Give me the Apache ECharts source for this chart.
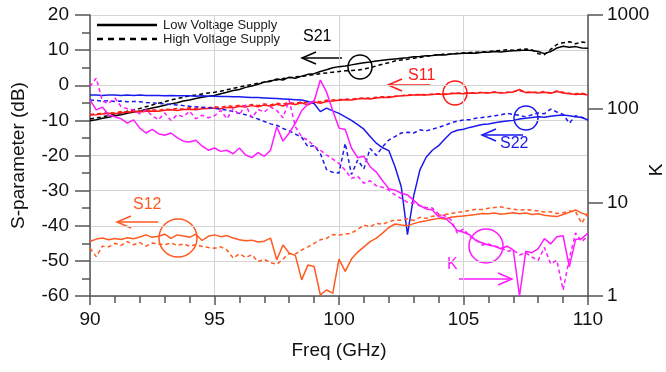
<!DOCTYPE html>
<html>
<head>
<meta charset="utf-8">
<script src="https://cdn.jsdelivr.net/npm/echarts@6/dist/echarts.min.js"></script>
<style>
  html, body { margin: 0; padding: 0; background: #fff; }
  #chart { width: 666px; height: 372px; }
</style>
</head>
<body>
<div id="chart"></div>
<script>
// frequency grid, GHz
var freq = [90, 90.25, 90.5, 90.75, 91, 91.25, 91.5, 91.75, 92, 92.25,
  92.5, 92.75, 93, 93.25, 93.5, 93.75, 94, 94.25, 94.5, 94.75,
  95, 95.25, 95.5, 95.75, 96, 96.25, 96.5, 96.75, 97, 97.25,
  97.5, 97.75, 98, 98.25, 98.5, 98.75, 99, 99.25, 99.5, 99.75,
  100, 100.25, 100.5, 100.75, 101, 101.25, 101.5, 101.75, 102, 102.25,
  102.5, 102.75, 103, 103.25, 103.5, 103.75, 104, 104.25, 104.5, 104.75,
  105, 105.25, 105.5, 105.75, 106, 106.25, 106.5, 106.75, 107, 107.25,
  107.5, 107.75, 108, 108.25, 108.5, 108.75, 109, 109.25, 109.5, 109.75,
  110];

// S-parameters (dB), low / high voltage supply
var s21Low = [-10.1, -9.8, -9.4, -9.1, -8.7, -8.4, -8.0, -7.6, -7.3, -6.9,
  -6.5, -6.1, -5.7, -5.3, -5.0, -4.5, -4.2, -3.8, -3.4, -3.1,
  -2.9, -2.4, -2.0, -1.5, -1.2, -0.6, -0.2, 0.3, 0.9, 1.1,
  1.8, 1.5, 2.3, 2.0, 2.6, 3.1, 3.3, 3.9, 4.4, 5.0,
  5.3, 5.5, 5.8, 6.1, 6.4, 6.6, 6.9, 7.1, 7.3, 7.5,
  7.7, 7.8, 8.1, 8.2, 8.4, 8.5, 8.7, 8.6, 8.9, 9.0,
  9.1, 9.2, 9.1, 9.4, 9.4, 9.6, 9.5, 9.7, 9.8, 9.9,
  10.0, 9.9, 9.6, 9.0, 9.6, 10.6, 11.1, 10.8, 11.0, 10.6,
  10.5];
var s21High = [-9.6, -9.3, -9.0, -8.6, -8.3, -7.9, -7.4, -7.0, -6.6, -6.1,
  -5.6, -5.1, -4.7, -4.2, -3.8, -3.4, -3.0, -2.8, -2.5, -2.2,
  -2.0, -1.7, -1.3, -0.9, -0.5, -0.1, 0.2, 0.6, 0.9, 1.3,
  1.5, 1.9, 2.1, 2.4, 2.5, 2.8, 3.0, 3.3, 3.5, 3.7,
  3.9, 4.1, 4.2, 4.3, 4.6, 5.0, 5.5, 6.0, 6.4, 6.9,
  7.2, 7.4, 7.7, 7.9, 8.2, 8.5, 8.6, 8.9, 8.8, 9.1,
  9.2, 9.3, 9.4, 9.5, 9.6, 9.8, 9.9, 10.1, 10.0, 10.2,
  10.3, 10.1, 9.0, 8.7, 10.2, 11.6, 12.1, 12.4, 11.8, 12.3,
  12.1];
var s11Low = [-8.5, -8.4, -8.2, -8.0, -8.1, -7.8, -7.7, -7.5, -7.6, -7.4,
  -7.3, -7.4, -7.1, -7.0, -7.2, -6.9, -6.8, -7.0, -6.7, -6.6,
  -6.5, -6.7, -6.3, -6.4, -6.0, -6.2, -5.8, -6.1, -5.6, -6.0,
  -5.4, -5.9, -5.2, -5.5, -5.0, -5.6, -4.8, -5.1, -4.6, -4.5,
  -4.3, -4.1, -4.2, -3.9, -3.8, -3.9, -3.6, -3.4, -3.5, -3.2,
  -3.0, -2.9, -2.8, -2.7, -2.8, -2.6, -2.5, -2.6, -2.4, -2.3,
  -2.4, -2.2, -2.3, -2.1, -2.2, -2.0, -2.2, -2.1, -1.9, -1.2,
  -2.1, -2.0, -2.2, -2.0, -2.3, -1.8, -2.2, -2.4, -2.6, -2.5,
  -2.8];
var s11High = [-8.3, -8.1, -8.0, -7.8, -7.9, -7.5, -7.6, -7.2, -7.4, -7.1,
  -7.0, -7.2, -6.8, -6.9, -6.6, -6.8, -6.4, -6.6, -6.3, -6.4,
  -6.1, -6.3, -5.9, -6.0, -5.7, -5.9, -5.5, -5.8, -5.3, -5.6,
  -5.1, -5.4, -4.9, -5.2, -4.7, -5.0, -4.5, -4.7, -4.3, -4.2,
  -4.1, -3.9, -4.0, -3.7, -3.6, -3.7, -3.4, -3.3, -3.3, -3.1,
  -3.0, -2.8, -2.7, -2.6, -2.7, -2.5, -2.4, -2.5, -2.3, -2.2,
  -2.3, -2.1, -2.2, -2.0, -2.1, -1.9, -2.1, -2.0, -1.8, -1.6,
  -2.0, -1.9, -2.1, -1.8, -2.2, -1.6, -2.0, -2.3, -2.4, -2.3,
  -2.6];
var s22Low = [-2.8, -2.8, -2.9, -2.8, -2.8, -2.9, -2.8, -2.9, -2.8, -2.9,
  -2.9, -2.9, -3.0, -2.9, -3.0, -3.0, -3.0, -3.1, -3.0, -3.1,
  -3.1, -3.2, -3.2, -3.3, -3.3, -3.4, -3.5, -3.5, -3.6, -3.7,
  -3.8, -3.9, -4.0, -4.1, -4.2, -4.6, -5.2, -7.5, -6.5, -7.3,
  -8.0, -9.0, -10.0, -11.2, -12.5, -14.6, -16.5, -17.8, -18.6, -23.2,
  -28.9, -42.5, -31.5, -24.1, -20.5, -18.5, -17.2, -15.3, -13.5, -12.8,
  -12.5, -12.0, -11.6, -11.2, -11.0, -10.7, -10.4, -10.2, -10.0, -9.6,
  -9.4, -9.2, -9.0, -9.1, -8.8, -8.6, -8.5, -8.7, -9.0, -9.2,
  -9.9];
var s22High = [-4.2, -4.3, -4.5, -4.4, -4.6, -4.5, -4.7, -4.6, -4.7, -4.9,
  -5.0, -5.2, -5.3, -5.5, -5.6, -5.8, -6.0, -6.1, -6.3, -6.4,
  -6.6, -6.8, -7.1, -7.5, -8.0, -8.4, -9.0, -9.6, -10.3, -11.0,
  -11.4, -12.3, -13.0, -13.9, -14.8, -17.5, -17.2, -19.4, -24.0, -24.8,
  -25.0, -16.5, -25.4, -21.3, -23.8, -18.0, -20.0, -17.5, -15.6, -14.6,
  -13.6, -13.4, -13.6, -12.7, -13.0, -12.5, -12.0, -11.4, -10.7, -10.2,
  -9.9, -9.8, -9.4, -9.2, -9.0, -8.7, -8.4, -8.0, -8.3, -8.6,
  -9.0, -8.4, -7.9, -8.1, -6.8, -7.6, -8.3, -10.8, -8.7, -9.1,
  -9.9];
var s12Low = [-44.5, -43.8, -43.5, -44.0, -43.6, -43.9, -43.4, -43.7, -43.2, -42.6,
  -43.3, -43.0, -42.4, -43.6, -42.6, -42.9, -43.3, -42.4, -44.2, -43.0,
  -42.6, -43.1, -42.8, -43.5, -44.0, -44.3, -44.1, -44.6, -44.4, -43.5,
  -49.7, -45.5, -47.8, -48.5, -55.4, -51.2, -51.6, -59.7, -58.3, -59.2,
  -49.5, -53.0, -49.5, -47.5, -46.0, -44.5, -43.5, -42.1, -40.5, -39.5,
  -39.8, -40.0, -39.4, -38.9, -38.6, -38.2, -37.9, -38.1, -37.6, -37.4,
  -37.2, -37.0, -36.8, -36.5, -36.6, -36.4, -36.7, -36.5, -36.3, -36.6,
  -36.4, -36.8, -36.6, -37.0, -37.2, -37.4, -36.8, -36.2, -35.5, -36.4,
  -37.0];
var s12High = [-46.4, -48.8, -45.8, -46.0, -45.0, -45.6, -44.5, -45.4, -44.8, -45.8,
  -44.9, -45.2, -45.4, -44.9, -45.6, -45.2, -45.8, -45.4, -45.9, -46.2,
  -46.4, -46.0, -46.9, -49.2, -48.0, -49.0, -48.3, -50.2, -49.6, -50.5,
  -51.0, -49.5, -47.9, -48.0, -46.9, -46.0, -45.0, -44.0, -43.6, -42.5,
  -42.6, -42.4, -42.1, -41.0, -39.8, -40.3, -39.3, -39.6, -38.8, -38.4,
  -38.4, -38.0, -38.5, -37.6, -37.9, -37.3, -37.0, -36.8, -36.5, -36.2,
  -36.0, -35.6, -35.3, -35.4, -35.0, -34.8, -34.6, -35.0, -35.3, -35.5,
  -35.4, -35.6, -35.8, -36.1, -36.0, -36.5, -36.3, -35.8, -36.0, -39.3,
  -36.3];

// stability factor K (log axis), low / high voltage supply
var kLow = [124, 97, 104, 85, 82, 78, 70, 76, 62, 55,
  60, 54, 52, 55, 49, 45, 44, 46, 40, 36,
  38, 35, 36, 33, 38, 32, 30, 34, 31, 36,
  64, 45, 55, 70, 95, 112, 120, 202, 151, 95,
  62, 60, 38, 30, 31, 24, 21, 17, 14, 13.5,
  12.5, 12, 10.5, 9.2, 8.5, 8.3, 7.0, 6.8, 6.0, 5.0,
  4.8, 4.5, 3.9, 3.7, 3.5, 3.4, 3.2, 3.4, 3.1, 1.0,
  3.0, 2.9, 3.2, 4.1, 3.6, 4.3, 4.4, 2.05, 4.0, 4.1,
  4.7];
var kHigh = [172, 212, 120, 114, 130, 105, 100, 97, 88, 97,
  84, 76, 90, 75, 86, 82, 94, 78, 85, 80,
  84, 96, 78, 100, 86, 110, 80, 98, 92, 104,
  96, 80, 123, 64, 50, 46, 40, 36, 32, 29,
  26, 22, 18, 19, 16, 17, 15, 14.5, 13.5, 12,
  11, 10, 9.8, 9.2, 8.8, 8.7, 7.5, 7.2, 6.5, 4.7,
  5.2, 4.3, 4.0, 3.5, 3.6, 3.4, 3.3, 3.0, 3.1, 2.74,
  2.9, 2.6, 2.4, 3.3, 2.2, 2.4, 1.16, 2.5, 4.7, 3.8,
  4.4];

var FONT = '"Liberation Sans", Arial, sans-serif';
var LOW = 'Low Voltage Supply', HIGH = 'High Voltage Supply';

function pairs(vals) {
  return freq.map(function (f, i) { return [f, vals[i]]; });
}

function line(name, vals, color, dashed, axis) {
  return {
    name: name,
    type: 'line',
    yAxisIndex: axis || 0,
    data: pairs(vals),
    showSymbol: false,
    symbol: 'none',
    lineStyle: { color: color, width: 1.5, type: dashed ? [4, 3] : 'solid' },
    itemStyle: { color: color }
  };
}

function arrow(x1, y1, x2, y2, color) {
  // arrow head at (x2, y2)
  var dx = x2 - x1, dy = y2 - y1, len = Math.sqrt(dx * dx + dy * dy);
  var ux = dx / len, uy = dy / len, h = 14, w = 6;
  return [
    { type: 'polyline', shape: { points: [[x1, y1], [x2, y2]] }, style: { stroke: color, lineWidth: 1.5, fill: null } },
    { type: 'polyline', shape: { points: [[x2 - ux * h - uy * w, y2 - uy * h + ux * w], [x2, y2], [x2 - ux * h + uy * w, y2 - uy * h - ux * w]] },
      style: { stroke: color, lineWidth: 1.5, fill: null } }
  ];
}

function ring(cx, cy, r, color) {
  return { type: 'circle', shape: { cx: cx, cy: cy, r: r }, style: { fill: null, stroke: color, lineWidth: 1.5 } };
}

function label(x, y, text, color) {
  return { type: 'text', style: { x: x, y: y, text: text, fill: color, font: '16px ' + FONT } };
}

function legendRow(y, text, dash) {
  return [
    { type: 'line', shape: { x1: 97, y1: y, x2: 157, y2: y },
      style: { stroke: '#000', lineWidth: 2.5, lineDash: dash } },
    { type: 'text', style: { x: 163, y: y, text: text, fill: '#222', font: '13px ' + FONT, textVerticalAlign: 'middle' } }
  ];
}

var cBlack = '#000000', cRed = '#ff1a1a', cBlue = '#1a1aee', cOrange = '#ff5a1f', cMag = '#ff1aff';

var graphics = [].concat(
  legendRow(25, LOW, null), legendRow(39, HIGH, [6, 5]),
  label(303, 29, 'S21', cBlack), arrow(342, 58, 302, 58, cBlack), ring(360, 67, 12, cBlack),
  label(408, 68, 'S11', cRed), arrow(430, 85, 388, 85, cRed), ring(455, 93, 12, cRed),
  label(500, 136, 'S22', cBlue), arrow(523, 135, 482, 135, cBlue), ring(526, 118, 12, cBlue),
  label(133, 197, 'S12', cOrange), arrow(158, 222, 117, 222, cOrange), ring(178, 238, 19, cOrange),
  label(447, 257, 'K', cMag), arrow(459, 279, 512, 279, cMag), ring(486, 246, 17, cMag),
  [{ type: 'text', x: 657, y: 170, rotation: Math.PI / 2,
     style: { text: 'K', fill: '#111', font: '19px ' + FONT, textAlign: 'center', textVerticalAlign: 'middle' } }]
);

var axisCol = '#555555';
var chart = echarts.init(document.getElementById('chart'));
chart.setOption({
  animation: false,
  backgroundColor: '#ffffff',
  textStyle: { fontFamily: FONT },
  grid: { left: 90, right: 78, top: 15, bottom: 76 },
  xAxis: {
    type: 'value', min: 90, max: 110, interval: 5,
    name: 'Freq (GHz)', nameLocation: 'middle', nameGap: 45,
    nameTextStyle: { fontSize: 19, color: '#111', fontFamily: FONT },
    axisLine: { show: true, onZero: false, lineStyle: { color: axisCol, width: 1.5 } },
    axisTick: { show: true, length: 9, lineStyle: { color: axisCol, width: 1.5 } },
    minorTick: { show: true, splitNumber: 5, length: 7, lineStyle: { color: axisCol, width: 1.5 } },
    splitLine: { show: true, lineStyle: { color: '#d4d4d4', width: 1 } },
    axisLabel: { fontSize: 19, color: '#111', margin: 14, fontFamily: FONT }
  },
  yAxis: [{
    type: 'value', min: -60, max: 20, interval: 10,
    name: 'S-parameter (dB)', nameLocation: 'middle', nameGap: 62, nameRotate: 90,
    nameTextStyle: { fontSize: 19, color: '#111', fontFamily: FONT },
    axisLine: { show: true, onZero: false, lineStyle: { color: axisCol, width: 1.5 } },
    axisTick: { show: true, length: 15, lineStyle: { color: axisCol, width: 1.5 } },
    minorTick: { show: true, splitNumber: 2, length: 8, lineStyle: { color: axisCol, width: 1.5 } },
    splitLine: { show: true, lineStyle: { color: '#d4d4d4', width: 1 } },
    axisLabel: { fontSize: 19, color: '#111', margin: 21, fontFamily: FONT }
  }, {
    type: 'log', min: 1, max: 1000, logBase: 10, position: 'right',
    axisLine: { show: true, onZero: false, lineStyle: { color: axisCol, width: 1.5 } },
    axisTick: { show: true, length: 15, lineStyle: { color: axisCol, width: 1.5 } },
    splitLine: { show: false },
    axisLabel: { fontSize: 19, color: '#111', margin: 19, fontFamily: FONT,
      formatter: function (v) { return String(Math.round(v)); } }
  }],
  series: [
    line(LOW, s21Low, cBlack, false),
    line(HIGH, s21High, cBlack, true),
    line(LOW, s11Low, cRed, false),
    line(HIGH, s11High, cRed, true),
    line(LOW, s22Low, cBlue, false),
    line(HIGH, s22High, cBlue, true),
    line(LOW, s12Low, cOrange, false),
    line(HIGH, s12High, cOrange, true),
    line(LOW, kLow, cMag, false, 1),
    line(HIGH, kHigh, cMag, true, 1)
  ],
  graphic: graphics
});
</script>
</body>
</html>
